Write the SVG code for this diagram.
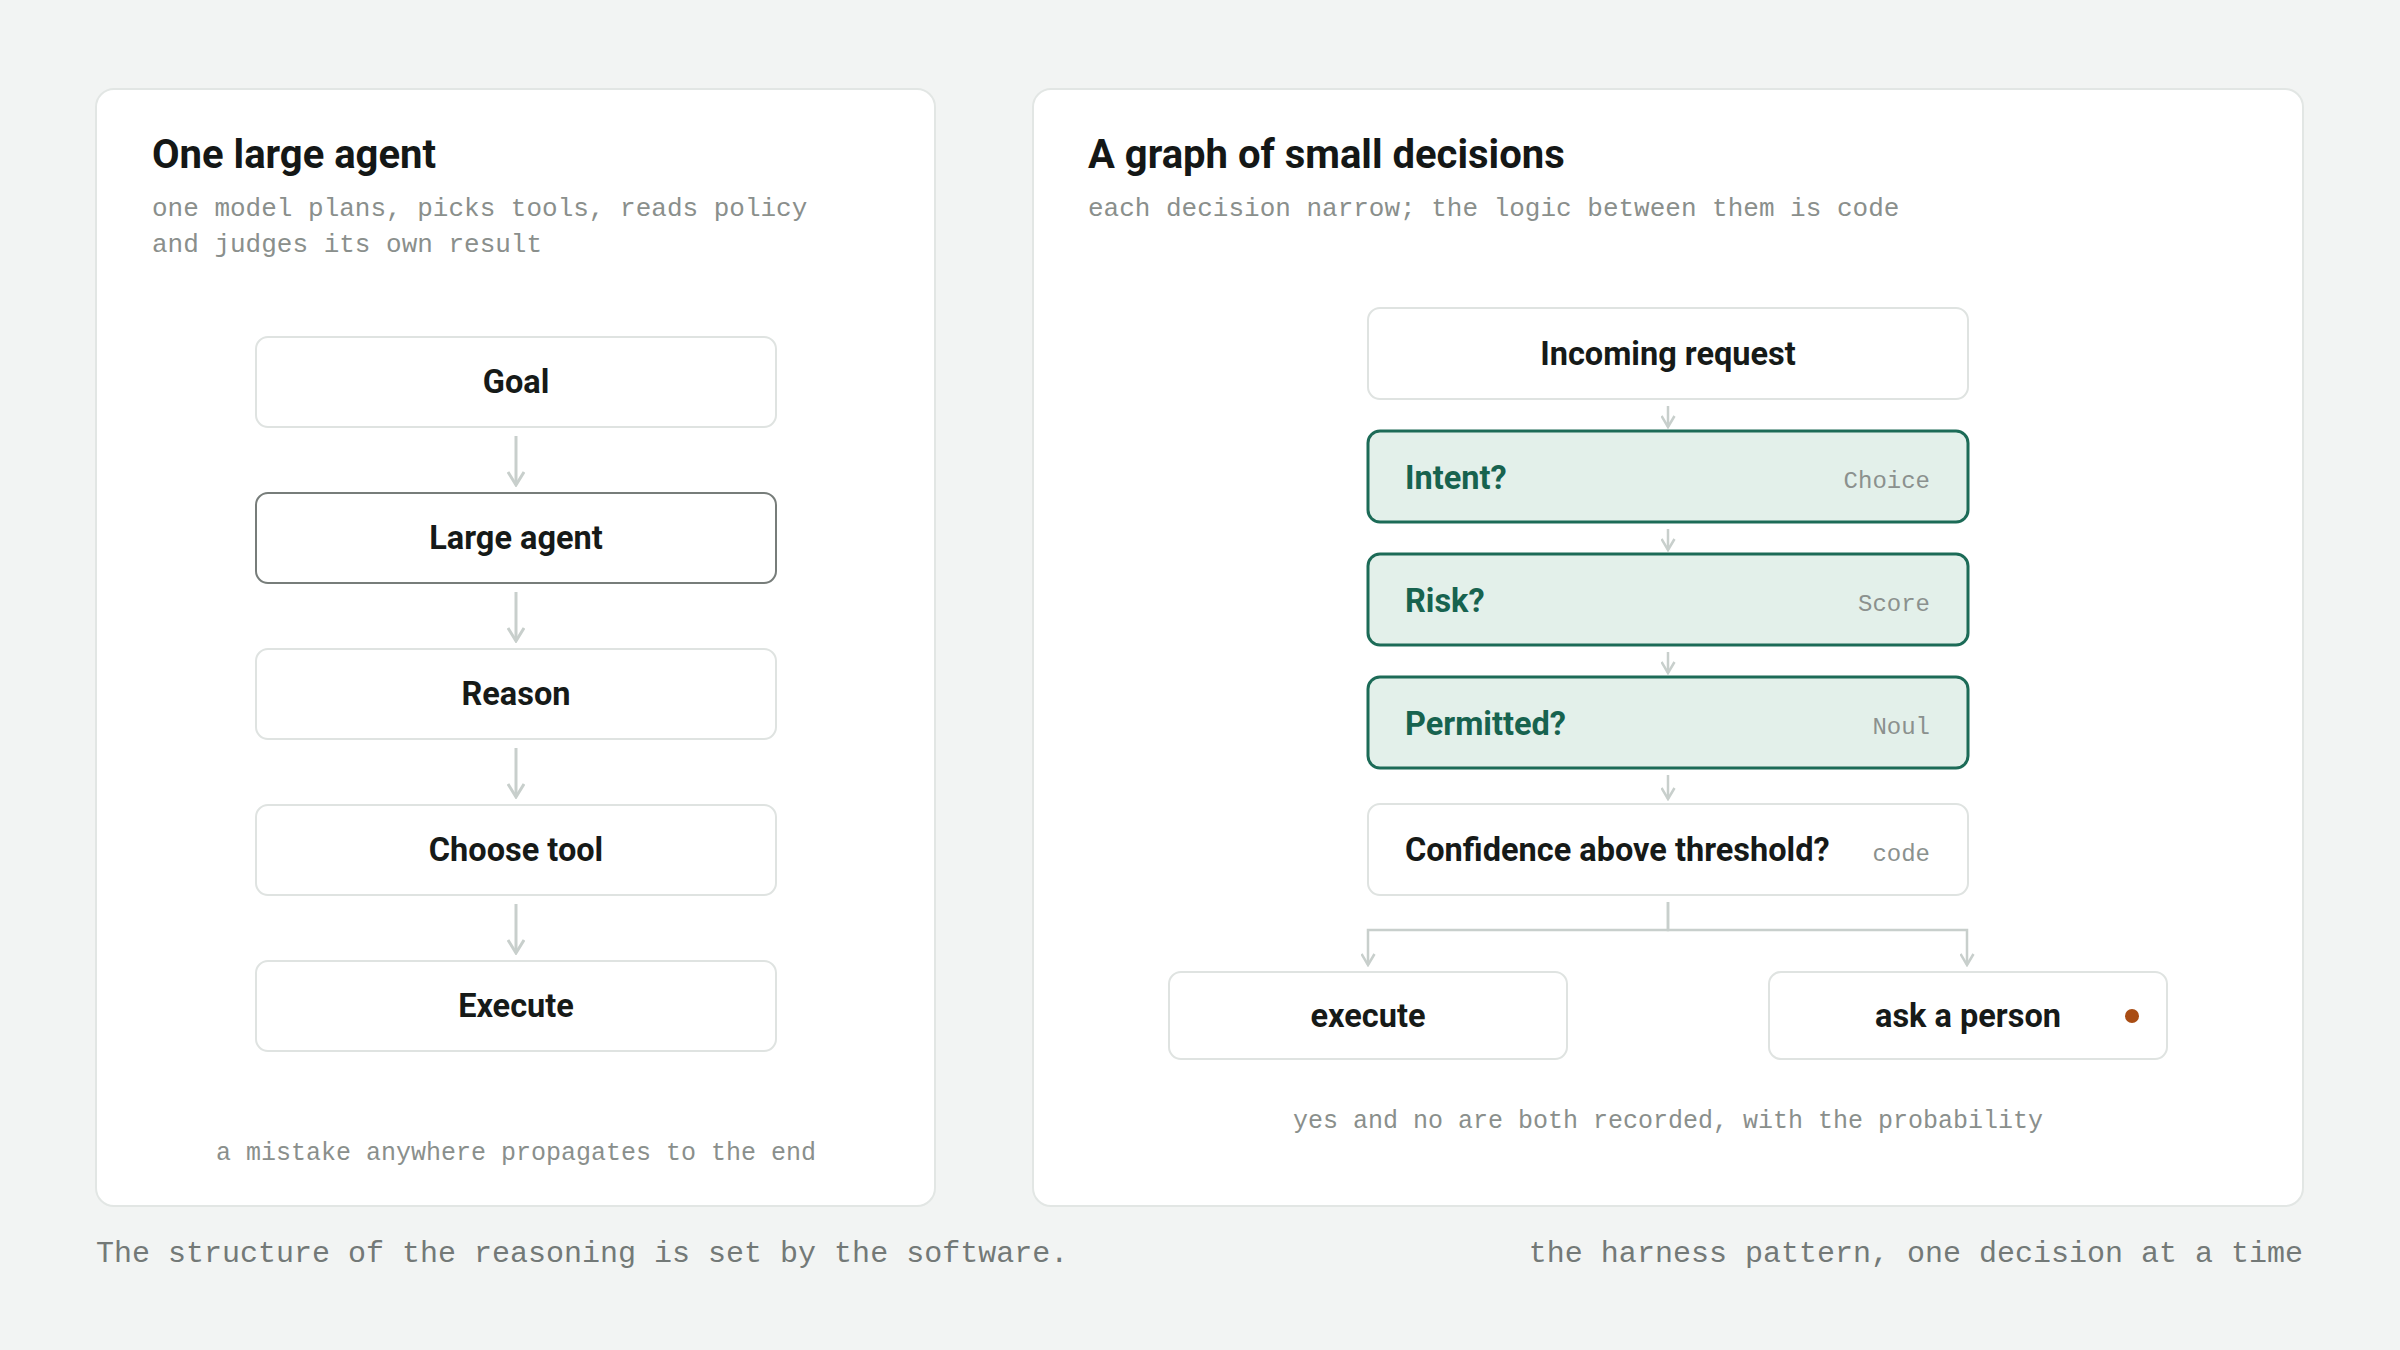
<svg xmlns="http://www.w3.org/2000/svg" width="2400" height="1350" viewBox="0 0 2400 1350">
<style>
.panel{fill:#ffffff;stroke:#e2e6e4;stroke-width:2}
.title{font-family:Roboto,"Liberation Sans",sans-serif;font-weight:700;font-size:40px;fill:#141716}
.sub{font-family:"Liberation Mono","DejaVu Sans Mono",monospace;font-size:26px;fill:#8a8f8c}
.note{font-family:"Liberation Mono","DejaVu Sans Mono",monospace;font-size:25px;fill:#8a8f8c}
.foot{font-family:"Liberation Mono","DejaVu Sans Mono",monospace;font-size:30px;fill:#737977}
.box{fill:#ffffff;stroke:#dfe3e1;stroke-width:2}
.strong{fill:#ffffff;stroke:#777d7a;stroke-width:2}
.green{fill:#e3f0ea;stroke:#1c6b57;stroke-width:3}
.lbl{font-family:Roboto,"Liberation Sans",sans-serif;font-weight:700;font-size:32.5px;fill:#161a18}
.glbl{font-family:Roboto,"Liberation Sans",sans-serif;font-weight:700;font-size:32.5px;fill:#17634f}
.tag{font-family:"Liberation Mono","DejaVu Sans Mono",monospace;font-size:24px;fill:#8b918e}
.mid{text-anchor:middle}
.end{text-anchor:end}
.conn{fill:none;stroke:#c8cfcc;stroke-width:3}
.conns{fill:none;stroke:#c8cfcc;stroke-width:2.5}
</style>
<defs>
<marker id="ah" viewBox="0 0 16 18" refX="14" refY="9" markerWidth="16" markerHeight="18" markerUnits="userSpaceOnUse" orient="auto">
<path d="M1,1 L14,9 L1,17" fill="none" stroke="#c8cfcc" stroke-width="3" stroke-linejoin="miter"/>
</marker>
<marker id="ahs" viewBox="0 0 14 15" refX="12" refY="7.5" markerWidth="14" markerHeight="15" markerUnits="userSpaceOnUse" orient="auto">
<path d="M1,1 L12,7.5 L1,14" fill="none" stroke="#c8cfcc" stroke-width="2.5"/>
</marker>
</defs>
<rect width="2400" height="1350" fill="#f2f4f3"/>

<g id="panel-left">
<rect class="panel" x="96" y="89" width="839" height="1117" rx="18"/>
<text class="title" x="152" y="168">One large agent</text>
<text class="sub" x="152" y="216">one model plans, picks tools, reads policy</text>
<text class="sub" x="152" y="252">and judges its own result</text>
<text class="note mid" x="516" y="1160">a mistake anywhere propagates to the end</text>
</g>

<g id="panel-right">
<rect class="panel" x="1033" y="89" width="1270" height="1117" rx="18"/>
<text class="title" x="1088" y="168">A graph of small decisions</text>
<text class="sub" x="1088" y="216">each decision narrow; the logic between them is code</text>
<text class="note mid" x="1668" y="1128">yes and no are both recorded, with the probability</text>
</g>

<g id="connectors">
<path class="conn" d="M516,436 V485" marker-end="url(#ah)"/>
<path class="conn" d="M516,592 V641" marker-end="url(#ah)"/>
<path class="conn" d="M516,748 V797" marker-end="url(#ah)"/>
<path class="conn" d="M516,904 V953" marker-end="url(#ah)"/>
<path class="conns" d="M1668,406 V427" marker-end="url(#ahs)"/>
<path class="conns" d="M1668,529 V550" marker-end="url(#ahs)"/>
<path class="conns" d="M1668,652 V673" marker-end="url(#ahs)"/>
<path class="conns" d="M1668,775 V799" marker-end="url(#ahs)"/>
<path class="conns" d="M1668,902 V930 H1368 V965" marker-end="url(#ahs)"/>
<path class="conns" d="M1668,902 V930 H1967 V965" marker-end="url(#ahs)"/>
</g>

<g id="node-goal">
<rect class="box" x="256" y="337" width="520" height="90" rx="12"/>
<text class="lbl mid" x="516" y="393">Goal</text>
</g>
<g id="node-large-agent">
<rect class="strong" x="256" y="493" width="520" height="90" rx="12"/>
<text class="lbl mid" x="516" y="549">Large agent</text>
</g>
<g id="node-reason">
<rect class="box" x="256" y="649" width="520" height="90" rx="12"/>
<text class="lbl mid" x="516" y="705">Reason</text>
</g>
<g id="node-choose-tool">
<rect class="box" x="256" y="805" width="520" height="90" rx="12"/>
<text class="lbl mid" x="516" y="861">Choose tool</text>
</g>
<g id="node-execute-left">
<rect class="box" x="256" y="961" width="520" height="90" rx="12"/>
<text class="lbl mid" x="516" y="1017">Execute</text>
</g>

<g id="node-incoming">
<rect class="box" x="1368" y="308" width="600" height="91" rx="12"/>
<text class="lbl mid" x="1668" y="365">Incoming request</text>
</g>
<g id="node-intent">
<rect class="green" x="1368" y="431" width="600" height="91" rx="12"/>
<text class="glbl" x="1405" y="489">Intent?</text>
<text class="tag end" x="1930" y="488">Choice</text>
</g>
<g id="node-risk">
<rect class="green" x="1368" y="554" width="600" height="91" rx="12"/>
<text class="glbl" x="1405" y="612">Risk?</text>
<text class="tag end" x="1930" y="611">Score</text>
</g>
<g id="node-permitted">
<rect class="green" x="1368" y="677" width="600" height="91" rx="12"/>
<text class="glbl" x="1405" y="735">Permitted?</text>
<text class="tag end" x="1930" y="734">Noul</text>
</g>
<g id="node-confidence">
<rect class="box" x="1368" y="804" width="600" height="91" rx="12"/>
<text class="lbl" x="1405" y="861">Confidence above threshold?</text>
<text class="tag end" x="1930" y="861">code</text>
</g>
<g id="node-execute">
<rect class="box" x="1169" y="972" width="398" height="87" rx="12"/>
<text class="lbl mid" x="1368" y="1027">execute</text>
</g>
<g id="node-ask">
<rect class="box" x="1769" y="972" width="398" height="87" rx="12"/>
<text class="lbl mid" x="1968" y="1027">ask a person</text>
<circle cx="2132" cy="1016" r="7" fill="#a94d14"/>
</g>

<g id="footer">
<text class="foot" x="96" y="1262">The structure of the reasoning is set by the software.</text>
<text class="foot end" x="2303" y="1262">the harness pattern, one decision at a time</text>
</g>
</svg>
